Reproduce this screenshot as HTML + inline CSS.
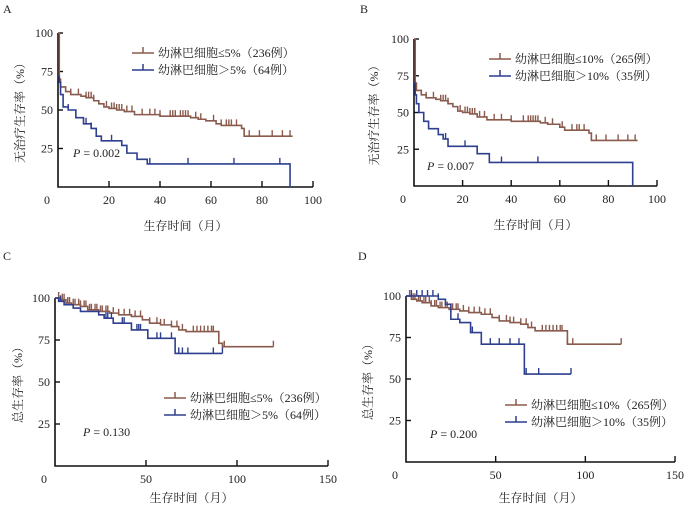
<!DOCTYPE html>
<html><head><meta charset="utf-8"><style>
body{margin:0;background:#fff;}
svg{display:block;font-family:"Liberation Serif","Noto Serif CJK SC",serif;}
text{fill:#222;}
</style></head><body>
<svg id="c" width="688" height="513" viewBox="0 0 688 513"></svg>
<script>
// Panel A data (time in months, survival %)
const aBrownT=[0,0.5,1,3,5,9,11,14,16,18,20,23,26,30,40,52,55,58,62,64,72,73,92];
const aBrownS=[100,70,65,62,60,59,58,56,54,52,51,50,49,47,46,45,44,43,41,40,38,33,33];
const aBrownC=[5,8,11,12,13,14,19,21,22,23,24,25,27,29,33,36,38,40,44,45,46,48,49,50,51,54,56,61,64,66,67,68,70,75,79,84,88,91];
const aBlueT=[0,0.5,1,2,4,7,10,13,15,17,25,27,31,35,91];
const aBlueS=[72,68,60,52,50,45,41,38,33,30,27,22,18,15,0];
const aBlueC=[4,11,13,21,36,51,69,87];
// Panel B
const bBrownT=[0,0.5,1,3,5,9,11,14,16,18,20,23,26,30,40,52,55,60,62,72,73,92];
const bBrownS=[100,70,65,62,60,59,58,56,54,51,50,49,47,45,44,43,42,40,38,36,31,31];
const bBrownC=[5,8,11,12,13,14,19,21,22,23,24,25,27,29,33,36,40,45,47,48,49,50,51,54,57,61,65,67,68,70,75,79,84,88,91];
const bBlueT=[0,0.5,1,2,4,6,10,12,14,26,31,90];
const bBlueS=[70,62,56,50,44,39,35,32,27,22,16,0];
const bBlueC=[10,13,21,36,51];
// Panel C
const cBrownT=[0,3,6,9,14,18,24,30,35,42,48,52,58,64,68,72,90,92,120];
const cBrownS=[100,99,97,96,95,93,92,91,90,89,87,85,84,83,81,80,73,71,71];
const cBrownC=[2,4,5,7,8,10,11,13,14,16,17,19,20,22,23,25,26,28,29,32,35,38,41,44,47,52,56,58,60,64,67,70,76,78,80,82,84,86,87,90,93,120];
const cBlueT=[0,2,5,10,14,24,27,32,42,51,66,92];
const cBlueS=[100,98,96,94,92,90,88,85,81,76,67,67];
const cBlueC=[3,28,29,31,37,38,45,46,47,56,58,64,68,70,73,87,92];
// Panel D
const dBrownT=[0,3,6,9,14,18,24,30,35,42,48,52,58,64,68,72,90,92,120];
const dBrownS=[100,98,97,96,94,93,92,91,90,89,87,85,84,83,81,79,71,71,71];
const dBrownC=[2,4,5,7,8,10,11,13,14,16,17,19,20,22,23,25,26,28,29,32,35,38,41,44,47,52,56,58,60,64,67,70,76,78,80,82,84,86,87,90,93,120];
const dBlueT=[0,18,22,25,30,36,42,66,92];
const dBlueS=[100,98,95,86,84,78,71,53,53];
const dBlueC=[3,6,9,12,15,18,29,37,47,52,58,63,67,74,92];

const NS='http://www.w3.org/2000/svg';
const svg=document.getElementById('c');
const BROWN='#8a5a4c',BLUE='#2d3f8e';
function el(tag,attrs,parent){const e=document.createElementNS(NS,tag);for(const k in attrs)e.setAttribute(k,attrs[k]);(parent||svg).appendChild(e);return e;}
function txt(x,y,s,attrs,parent){const t=el('text',Object.assign({x:x,y:y},attrs||{}),parent);t.textContent=s;return t;}
function stepAt(T,S,t){let v=S[0];for(let i=0;i<T.length;i++){if(T[i]<=t)v=S[i];}return v;}

function panel(p){
  const g=el('g',{});
  
  
  const X=t=>p.x0+(p.x1-p.x0)*t/p.xmax;
  const Y=s=>p.y0+(p.y1-p.y0)*s/100;
  const lt=txt(p.lx,p.ly,p.letter,{'font-size':12},g);
  
  
  const ax=el('path',{d:`M${p.x0} ${Y(100)} V${p.y0} H${p.x1}`,stroke:'#111','stroke-width':1.6,fill:'none'},g);
  
  
  [25,50,75,100].forEach(v=>{
    el('line',{x1:p.x0,x2:p.x0+5,y1:Y(v),y2:Y(v),stroke:'#111','stroke-width':1.4},g);
    const t=txt(p.x0-5,Y(v)+4,String(v),{'font-size':12,'text-anchor':'end'},g);
    
    
  });
  const z=txt(p.x0-8,p.y0+17,'0',{'font-size':12,'text-anchor':'end'},g);
  
  
  p.xticks.forEach(v=>{
    el('line',{x1:X(v),x2:X(v),y1:p.y0,y2:p.y0-6,stroke:'#111','stroke-width':1.4},g);
    const t=txt(X(v),p.y0+17,String(v),{'font-size':12,'text-anchor':'middle'},g);
    
    
  });
  const xt=txt((p.x0+p.x1)/2,p.y0+p.xtOff,'生存时间（月）',{'font-size':12,'text-anchor':'middle',fill:'#333'},g);
  
  
  const ycx=p.ytx,ycy=(Y(100)+p.y0)/2;
  const yt=txt(ycx,ycy,p.ytitle,{'font-size':12,'text-anchor':'middle',transform:`rotate(-90 ${ycx} ${ycy})`,fill:'#333'},g);
  
  
  p.series.forEach(s=>{
    let d=`M${X(s.T[0])} ${Y(s.S[0])}`;
    for(let i=1;i<s.T.length;i++){d+=` H${X(s.T[i])} V${Y(s.S[i])}`;}
    const path=el('path',{d:d,stroke:s.color,'stroke-width':1.6,fill:'none'},g);
    
    
    s.C.forEach(c=>{
      const yy=Y(stepAt(s.T,s.S,c));
      const m=el('line',{x1:X(c),x2:X(c),y1:yy,y2:yy-6,stroke:s.color,'stroke-width':1.4},g);
      
      
    });
  });
  p.series.forEach((s,i)=>{
    const ly=p.legY+i*17;
    const lg=el('g',{},g);
    
    
    el('path',{d:`M${p.legX} ${ly} H${p.legX+22} M${p.legX+11} ${ly} V${ly-6}`,stroke:s.color,'stroke-width':1.5,fill:'none'},lg);
    txt(p.legX+26,ly+4,s.label,{'font-size':12,fill:'#333'},lg);
  });
  const pv=el('text',{x:p.px,y:p.py,'font-size':12},g);
  
  
  pv.innerHTML='<tspan font-style="italic">P</tspan> = '+p.pval;
}

panel({name:'panel-a',letter:'A',lx:3,ly:13,x0:58,x1:313,y0:187,y1:33,xmax:100,xticks:[20,40,60,80,100],ytitle:'无治疗生存率（%）',
  ytx:24,xtOff:43,legX:132,legY:53,px:73,py:157,pval:'0.002',
  series:[{name:'series-le5',T:aBrownT,S:aBrownS,C:aBrownC,color:BROWN,label:'幼淋巴细胞≤5%（236例）'},
          {name:'series-gt5',T:aBlueT,S:aBlueS,C:aBlueC,color:BLUE,label:'幼淋巴细胞＞5%（64例）'}]});
panel({name:'panel-b',letter:'B',lx:360,ly:13,x0:414,x1:657,y0:186,y1:39,xmax:100,xticks:[20,40,60,80,100],ytitle:'无治疗生存率（%）',
  ytx:378,xtOff:43,legX:489,legY:59,px:427,py:170,pval:'0.007',
  series:[{name:'series-le10',T:bBrownT,S:bBrownS,C:bBrownC,color:BROWN,label:'幼淋巴细胞≤10%（265例）'},
          {name:'series-gt10',T:bBlueT,S:bBlueS,C:bBlueC,color:BLUE,label:'幼淋巴细胞＞10%（35例）'}]});
panel({name:'panel-c',letter:'C',lx:3,ly:260,x0:55,x1:328,y0:466,y1:298,xmax:150,xticks:[50,100,150],ytitle:'总生存率（%）',
  ytx:22,xtOff:36,legX:164,legY:398,px:83,py:436,pval:'0.130',
  series:[{name:'series-le5-os',T:cBrownT,S:cBrownS,C:cBrownC,color:BROWN,label:'幼淋巴细胞≤5%（236例）'},
          {name:'series-gt5-os',T:cBlueT,S:cBlueS,C:cBlueC,color:BLUE,label:'幼淋巴细胞＞5%（64例）'}]});
panel({name:'panel-d',letter:'D',lx:358,ly:260,x0:406,x1:675,y0:462,y1:296,xmax:150,xticks:[50,100,150],ytitle:'总生存率（%）',
  ytx:372,xtOff:40,legX:505,legY:405,px:430,py:438,pval:'0.200',
  series:[{name:'series-le10-os',T:dBrownT,S:dBrownS,C:dBrownC,color:BROWN,label:'幼淋巴细胞≤10%（265例）'},
          {name:'series-gt10-os',T:dBlueT,S:dBlueS,C:dBlueC,color:BLUE,label:'幼淋巴细胞＞10%（35例）'}]});
</script>
</body></html>
